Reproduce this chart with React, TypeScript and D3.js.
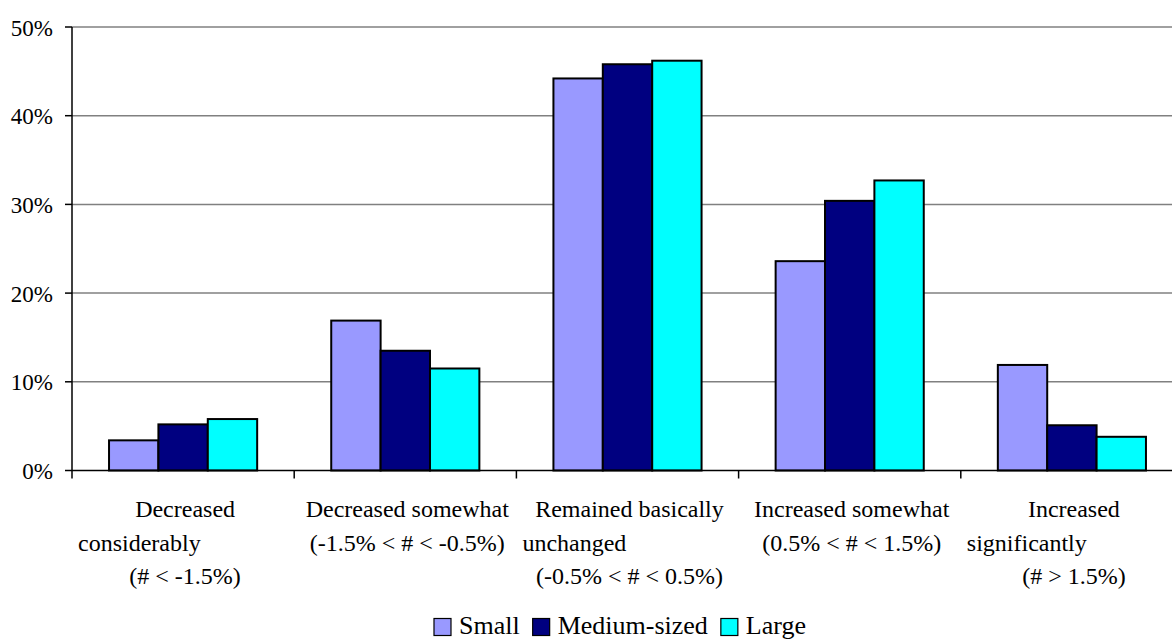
import React, { useEffect, useRef } from "react";
import * as d3 from "d3";

const categories: string[][] = [
  ["Decreased", "considerably", "(# < -1.5%)"],
  ["Decreased somewhat", "(-1.5% < # < -0.5%)"],
  ["Remained basically", "unchanged", "(-0.5% < # < 0.5%)"],
  ["Increased somewhat", "(0.5% < # < 1.5%)"],
  ["Increased", "significantly", "(# > 1.5%)"],
];
const seriesNames = ["Small", "Medium-sized", "Large"];
const small = [3.4, 16.9, 44.2, 23.6, 11.9];
const medium = [5.2, 13.5, 45.8, 30.4, 5.1];
const large = [5.8, 11.5, 46.2, 32.7, 3.8];
const yTicks = [0, 10, 20, 30, 40, 50];
const colors = ["#9999FF", "#000080", "#00FFFF"];

const W = 1172;
const H = 641;
const FONT = "'Liberation Serif', 'Times New Roman', serif";

export default function App() {
  const ref = useRef<SVGSVGElement>(null);

  useEffect(() => {
    const svg = d3.select(ref.current);
    svg.selectAll("*").remove();

    const x0 = 72;
    const x1 = 1183;
    const yScale = d3.scaleLinear().domain([0, 50]).range([470.5, 27]);
    const xScale = d3
      .scaleBand<number>()
      .domain(categories.map((_, i) => i))
      .range([x0, x1])
      .padding(0);
    const band = xScale.bandwidth();
    const barW = band / 4.5;
    const inner = d3
      .scaleBand<number>()
      .domain([0, 1, 2])
      .range([barW * 0.75, barW * 3.75])
      .padding(0);

    // gridlines
    svg
      .append("g")
      .selectAll("line")
      .data(yTicks.filter((t) => t > 0))
      .join("line")
      .attr("x1", x0)
      .attr("x2", W)
      .attr("y1", (d) => yScale(d))
      .attr("y2", (d) => yScale(d))
      .attr("stroke", "#808080")
      .attr("stroke-width", 1.5);

    // bars
    const series = [small, medium, large];
    const g = svg.append("g");
    series.forEach((vals, si) => {
      g.append("g")
        .selectAll("rect")
        .data(vals)
        .join("rect")
        .attr("x", (_, i) => (xScale(i) as number) + (inner(si) as number))
        .attr("width", inner.bandwidth())
        .attr("y", (d) => yScale(d))
        .attr("height", (d) => yScale(0) - yScale(d))
        .attr("fill", colors[si])
        .attr("stroke", "#000")
        .attr("stroke-width", 2);
    });

    // y axis
    svg
      .append("line")
      .attr("x1", x0)
      .attr("x2", x0)
      .attr("y1", yScale(50))
      .attr("y2", yScale(0))
      .attr("stroke", "#000")
      .attr("stroke-width", 1.5);
    const yt = svg.append("g");
    yt.selectAll("line")
      .data(yTicks)
      .join("line")
      .attr("x1", x0 - 7)
      .attr("x2", x0)
      .attr("y1", (d) => yScale(d))
      .attr("y2", (d) => yScale(d))
      .attr("stroke", "#000")
      .attr("stroke-width", 1.5);
    yt.selectAll("text")
      .data(yTicks)
      .join("text")
      .attr("x", 53)
      .attr("y", (d) => yScale(d) + 8.5)
      .attr("text-anchor", "end")
      .attr("font-family", FONT)
      .attr("font-size", 23)
      .attr("fill", "#000")
      .text((d) => `${d}%`);

    // x axis
    svg
      .append("line")
      .attr("x1", x0)
      .attr("x2", W)
      .attr("y1", yScale(0))
      .attr("y2", yScale(0))
      .attr("stroke", "#000")
      .attr("stroke-width", 1.5);
    svg
      .append("g")
      .selectAll("line")
      .data(d3.range(categories.length + 1))
      .join("line")
      .attr("x1", (i) => x0 + i * band)
      .attr("x2", (i) => x0 + i * band)
      .attr("y1", yScale(0))
      .attr("y2", yScale(0) + 8)
      .attr("stroke", "#000")
      .attr("stroke-width", 1.5);

    // category labels
    const lineY = [517, 551, 584];
    categories.forEach((lines, i) => {
      const start = xScale(i) as number;
      const center = start + band / 2;
      lines.forEach((ln, li) => {
        const leftAligned = lines.length === 3 && li === 1;
        svg
          .append("text")
          .attr("x", leftAligned ? start + 6 : center + 2)
          .attr("y", lineY[li])
          .attr("text-anchor", leftAligned ? "start" : "middle")
          .attr("font-family", FONT)
          .attr("font-size", 24)
          .attr("fill", "#000")
          .text(ln);
      });
    });

    // legend
    const lg = svg.append("g");
    const items: { w: number; node: any; sq: any }[] = [];
    seriesNames.forEach((name, si) => {
      const sq = lg
        .append("rect")
        .attr("width", 17)
        .attr("height", 17)
        .attr("fill", colors[si])
        .attr("stroke", "#000")
        .attr("stroke-width", 1.2);
      const t = lg
        .append("text")
        .attr("font-family", FONT)
        .attr("font-size", 26)
        .attr("fill", "#000")
        .text(name);
      const w = (t.node() as SVGTextElement).getComputedTextLength();
      items.push({ w, node: t, sq });
    });
    const gapSq = 8;
    const gapItem = 13;
    const total =
      items.reduce((a, it) => a + 17 + gapSq + it.w, 0) + gapItem * (items.length - 1);
    let cx = 620 - total / 2;
    items.forEach((it) => {
      it.sq.attr("x", cx).attr("y", 618.5);
      it.node.attr("x", cx + 17 + gapSq).attr("y", 634);
      cx += 17 + gapSq + it.w + gapItem;
    });
  }, []);

  return (
    <svg
      ref={ref}
      width={W}
      height={H}
      style={{ position: "absolute", left: 0, top: 0, background: "#fff" }}
    />
  );
}
